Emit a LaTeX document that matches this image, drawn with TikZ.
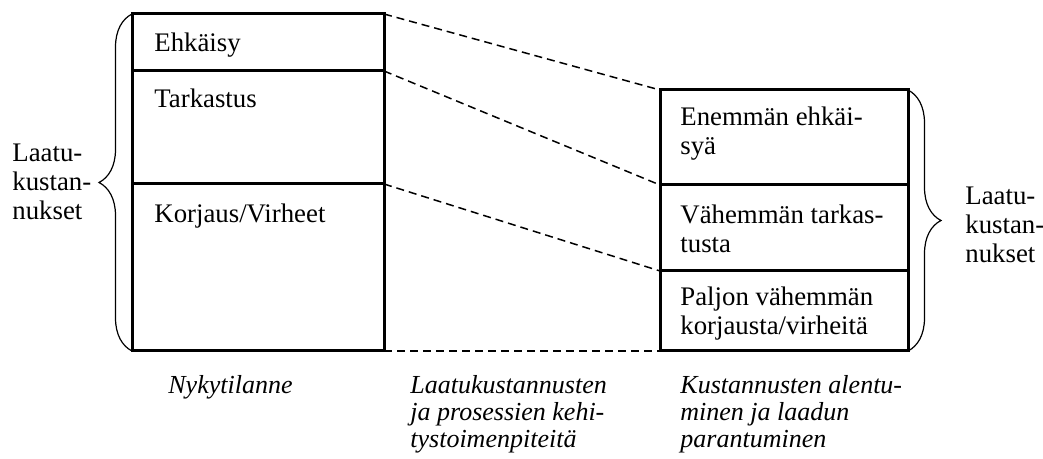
\documentclass[tikz,border=0pt]{standalone}
\usepackage{fontspec}
\setmainfont{Liberation Serif}
\usetikzlibrary{decorations.pathreplacing}

\begin{document}
\begin{tikzpicture}[x=0.5pt,y=-0.5pt,
  part/.style={draw,line width=1.5pt,minimum width=126pt,inner sep=0pt,outer sep=0pt,anchor=north west},
  txt/.style={anchor=north west,inner sep=0pt,align=left,font=\fontsize{13.4}{14.5}\selectfont},
  phase/.style={anchor=north west,inner sep=0pt,align=left,font=\fontsize{13}{13.5}\selectfont\itshape},
  link/.style={dash pattern=on 4pt off 2.5pt,line width=0.75pt},
  curly/.style={decorate,decoration={brace,amplitude=16.5pt},line width=0.6pt}]
  \useasboundingbox (0,0) rectangle (1043,459);
  % nykytilanne
  \node[part,minimum height=28.5pt] at (132,14) (ehk) {};
  \node[part,minimum height=56.5pt] at (132,71) (tark) {};
  \node[part,minimum height=83.5pt] at (132,184) (korj) {};
  \node[txt] at ([shift={(22,19)}]ehk.north west) (ehkT) {Ehkäisy};
  \node[txt] at ([shift={(22,18)}]tark.north west) (tarkT) {Tarkastus};
  \node[txt] at ([shift={(22,20)}]korj.north west) (korjT) {Korjaus/Virheet};
  % tavoite
  \node[part,minimum width=124pt,minimum height=47.5pt] at (660,90) (enem) {};
  \node[part,minimum width=124pt,minimum height=43pt] at (660,185) (vah) {};
  \node[part,minimum width=124pt,minimum height=40pt] at (660,271) (pal) {};
  \node[txt] at ([shift={(20,17)}]enem.north west) (enemT) {Enemmän ehkäi-\\syä};
  \node[txt] at ([shift={(20,20)}]vah.north west) (vahT) {Vähemmän tarkas-\\tusta};
  \node[txt] at ([shift={(20,16)}]pal.north west) (palT) {Paljon vähemmän\\korjausta/virheitä};
  \draw[link] (ehk.north east) -- (enem.north west);
  \draw[link] (ehk.south east) -- (vah.north west);
  \draw[link] (korj.north east) -- (pal.north west);
  \draw[link] (korj.south east) -- (pal.south west);
  % aaltosulut
  \draw[curly] (korj.south west) -- (ehk.north west);
  \draw[curly] (enem.north east) -- (pal.south east);
  \node[txt] at (12,144) (costL) {Laatu-\\kustan-\\nukset};
  \node[txt] at (965,187) (costR) {Laatu-\\kustan-\\nukset};
  % alarivi
  \node[phase] at ([shift={(36,24)}]korj.south west) (nyky) {Nykytilanne};
  \node[phase] at ([shift={(26,24)}]korj.south east) (kehi) {Laatukustannusten\\ja prosessien kehi-\\tystoimenpiteitä};
  \node[phase] at ([shift={(20,24)}]pal.south west) (alen) {Kustannusten alentu-\\minen ja laadun\\parantuminen};
\end{tikzpicture}
\end{document}
